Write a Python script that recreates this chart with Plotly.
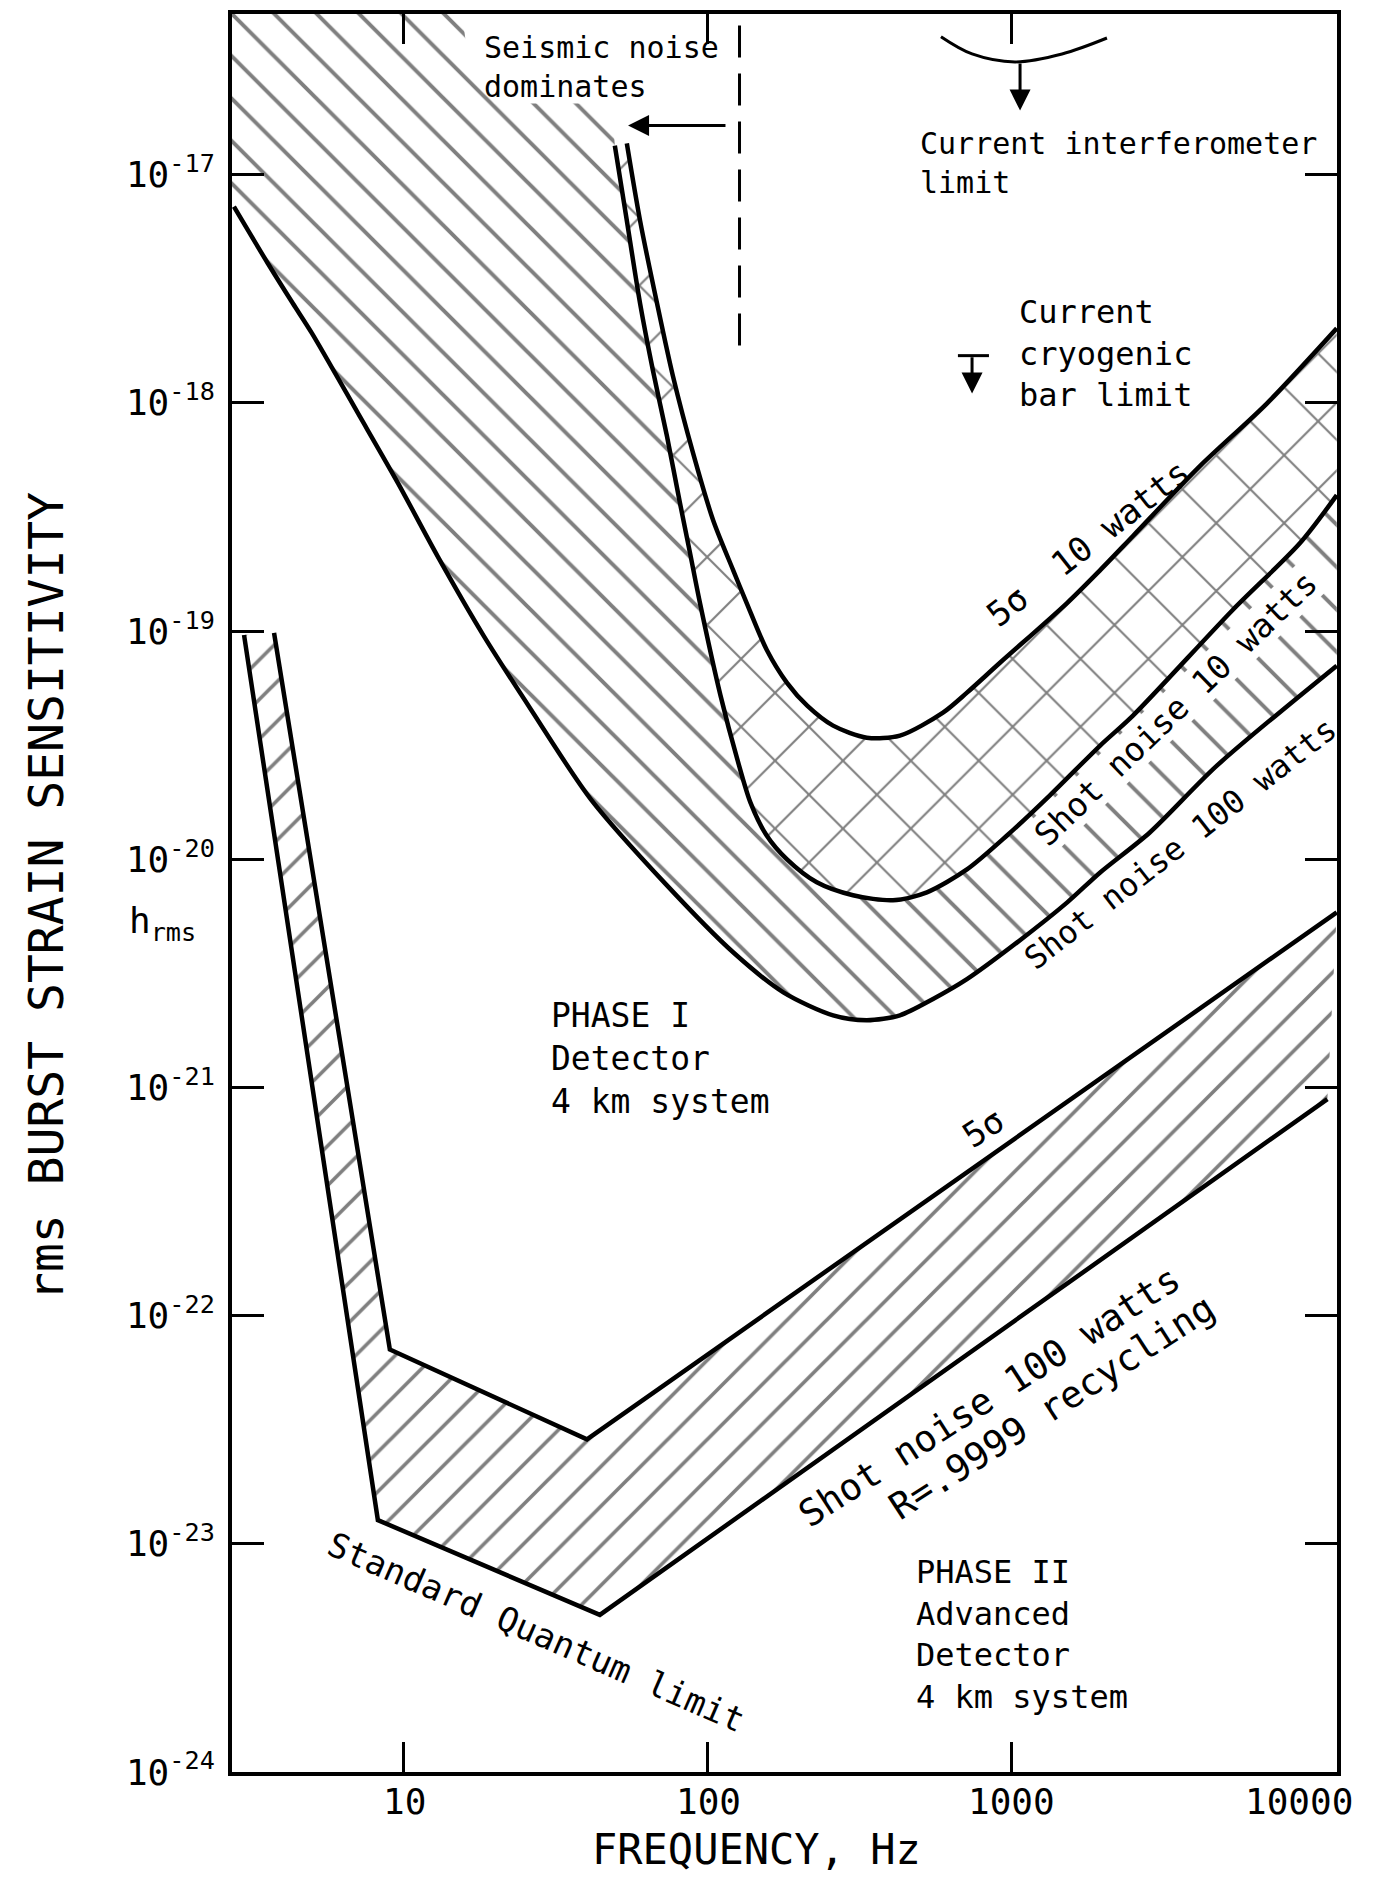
import math
import plotly.graph_objects as go

# ---------------- values ----------------
# Phase I : lower envelope, shot noise 100 W  (Hz, h_rms)
shot100_f = [2.76, 3.57, 4.31, 4.98, 7.06, 9.56, 12.9, 18.3, 26.2, 41.2, 73.3, 121, 177,
             258, 333, 428, 550, 711, 1040, 1520, 1950, 2840, 4720, 11700]
shot100_h = [7.24e-18, 4.08e-18, 2.73e-18, 2.02e-18, 9.01e-19, 4.45e-19, 2.13e-19, 9.53e-20,
             4.52e-20, 1.83e-20, 7.68e-21, 3.91e-21, 2.61e-21, 2.07e-21, 1.97e-21,
             2.07e-21, 2.44e-21, 2.98e-21, 4.32e-21, 6.47e-21, 8.75e-21, 1.31e-20, 2.57e-20, 7.05e-20]

# Phase I : shot noise 10 W
shot10_f = [49.4, 54.1, 59.8, 65.9, 73.3, 80.9, 87.3, 94.1, 110, 125, 138, 156, 182, 228, 300,
            406, 525, 711, 963, 1330, 1950, 2500, 5330, 8860, 11700]
shot10_h = [1.34e-17, 6.29e-18, 2.73e-18, 1.39e-18, 7.15e-19, 3.64e-19, 2.20e-19, 1.33e-19,
            5.21e-20, 2.73e-20, 1.77e-20, 1.27e-20, 9.98e-21, 7.92e-21, 6.95e-21, 6.61e-21,
            7.16e-21, 9.02e-21, 1.27e-20, 1.90e-20, 3.15e-20, 4.26e-20, 1.24e-19, 2.43e-19, 3.94e-19]

# Phase I : 5 sigma, 10 W
sig10_f = [54.1, 59.8, 68.0, 76.7, 89.3, 104, 121, 134, 156, 182, 212, 258, 333, 428, 593,
           711, 913, 1520, 1950, 2500, 4150, 6900, 11700]
sig10_h = [1.37e-17, 6.29e-18, 2.73e-18, 1.31e-18, 6.03e-19, 3.06e-19, 1.85e-19, 1.33e-19,
           8.28e-20, 5.93e-20, 4.71e-20, 3.85e-20, 3.41e-20, 3.48e-20, 4.39e-20, 5.37e-20,
           7.26e-20, 1.33e-19, 1.85e-19, 2.61e-19, 5.28e-19, 9.95e-19, 2.12e-18]

# upper edge of the seismic-noise hatching (it stops under the label)
seis_top_f = [2.5, 14.5, 16.5, 19.9, 48.3]
seis_top_h = [1e-16, 1e-16, 2.77e-17, 2.05e-17, 2.05e-17]

# Phase II : 5 sigma (upper) and standard quantum limit / recycled shot noise (lower)
p2_sigma_f = [3.74, 8.99, 40.0, 11700]
p2_sigma_h = [9.82e-20, 7.10e-23, 2.87e-23, 5.85e-21]
p2_sql_f = [2.98, 8.21, 44.1, 10900]
p2_sql_h = [9.61e-20, 1.27e-23, 4.88e-24, 8.89e-22]

# markers
seismic_cut_f = [127, 127]
seismic_cut_h = [4.5e-17, 1.7e-18]
seismic_arrow_f = [115.5, 54.6]          # tail, tip
seismic_arrow_h = [1.64e-17, 1.64e-17]
interf_arc_f = [584, 739, 1023, 1461, 2053]
interf_arc_h = [4.02e-17, 3.38e-17, 3.12e-17, 3.38e-17, 3.97e-17]
interf_arrow_f = [1063, 1063]
interf_arrow_h = [3.12e-17, 1.91e-17]
cryo_bar_f = [664, 840]
cryo_bar_h = [1.61e-18, 1.61e-18]
cryo_arrow_f = [739, 739]
cryo_arrow_h = [1.61e-18, 1.10e-18]

x_ticks = [10, 100, 1000]
x_labels = ["10", "100", "1000", "10000"]
y_ticks = [1e-24, 1e-23, 1e-22, 1e-21, 1e-20, 1e-19, 1e-18, 1e-17]
y_ticktext = ["10<sup>-24</sup>", "10<sup>-23</sup>", "10<sup>-22</sup>", "10<sup>-21</sup>",
              "10<sup>-20</sup>", "10<sup>-19</sup>", "10<sup>-18</sup>", "10<sup>-17</sup>"]

FONT = "DejaVu Sans Mono"

fig = go.Figure()


def hatch(fx, hy, shape, size, solidity):
    fig.add_trace(go.Scatter(x=fx, y=hy, mode="lines", fill="toself",
                             line=dict(width=0, color="rgba(0,0,0,0)"), fillcolor="white",
                             fillpattern=dict(shape=shape, size=size, solidity=solidity,
                                              fgcolor="black", bgcolor="white"),
                             hoverinfo="skip", showlegend=False))


# ---- hatched regions ----
hatch(seis_top_f + shot10_f + shot100_f[::-1] + [2.5],
      seis_top_h + shot10_h + shot100_h[::-1] + [shot100_h[0]], "\\", 30, 0.13)
hatch(sig10_f + shot10_f[::-1], sig10_h + shot10_h[::-1], "x", 48, 0.085)
hatch(p2_sigma_f + p2_sql_f[::-1], p2_sigma_h + p2_sql_h[::-1], "/", 28, 0.13)

# ---- curves ----
for fx, hy, shp in [(shot100_f, shot100_h, "spline"), (shot10_f, shot10_h, "spline"),
                    (sig10_f, sig10_h, "spline"), (p2_sigma_f, p2_sigma_h, "linear"),
                    (p2_sql_f, p2_sql_h, "linear")]:
    fig.add_trace(go.Scatter(x=fx, y=hy, mode="lines",
                             line=dict(color="black", width=4.5, shape=shp, smoothing=0.8),
                             hoverinfo="skip", showlegend=False))

fig.add_trace(go.Scatter(x=seismic_cut_f, y=seismic_cut_h, mode="lines",
                         line=dict(color="black", width=3, dash="32px,16px"),
                         hoverinfo="skip", showlegend=False))
fig.add_trace(go.Scatter(x=interf_arc_f, y=interf_arc_h, mode="lines",
                         line=dict(color="black", width=3, shape="spline"),
                         hoverinfo="skip", showlegend=False))
fig.add_trace(go.Scatter(x=cryo_bar_f, y=cryo_bar_h, mode="lines",
                         line=dict(color="black", width=3),
                         hoverinfo="skip", showlegend=False))

# plot area in page pixels (page has an 8 px body margin)
L, R, T, B = 232, 1337, 10, 1772
FW, FH = 1373, 1872


def pp(px, py):
    return dict(x=(px - L) / (R - L), y=(B - py) / (B - T), xref="paper", yref="paper")


ann = []
for fx, hy in [(seismic_arrow_f, seismic_arrow_h), (interf_arrow_f, interf_arrow_h),
               (cryo_arrow_f, cryo_arrow_h)]:
    ann.append(dict(x=math.log10(fx[1]), y=math.log10(hy[1]), ax=math.log10(fx[0]),
                    ay=math.log10(hy[0]), xref="x", yref="y", axref="x", ayref="y",
                    text="", showarrow=True, arrowhead=2, arrowsize=1.4, arrowwidth=3,
                    arrowcolor="black", standoff=0))

texts = [
    ("Seismic noise<br>dominates", 482, 63, 30, 0, "left", None),
    ("Current interferometer<br>limit", 918, 159, 30, 0, "left", None),
    ("Current<br>cryogenic<br>bar limit", 1017, 350, 32, 0, "left", None),
    ("PHASE I<br>Detector<br>4 km system", 549, 1057, 33, 0, "left", None),
    ("PHASE II<br>Advanced<br>Detector<br>4 km system", 914, 1634, 32, 0, "left", None),
    ("5σ\u00a0\u00a010 watts", 1088, 540, 34, -38, "center", None),
    ("Shot noise 10 watts", 1176, 706, 33, -44, "center", "white"),
    ("Shot noise 100 watts", 1180, 842, 32, -38, "center", None),
    ("5σ", 983, 1127, 34, -33, "center", None),
    ("Shot noise 100 watts", 990, 1396, 37, -33, "center", None),
    ("R=.9999 recycling", 1052, 1407, 37, -33, "center", None),
    ("Standard Quantum limit", 536, 1632, 34, 23.5, "center", None),
    ("rms BURST STRAIN SENSITIVITY", 46, 895, 48, -90, "center", None),
    ("h<sub>rms</sub>", 162, 922, 36, 0, "center", None),
    ("FREQUENCY, Hz", 756, 1850, 42, 0, "center", None),
]
for lbl, px in zip(x_labels, [404, 708, 1011, 1299]):
    texts.append((lbl, px, 1802, 36, 0, "center", None))

for txt, px, py, fs, ang, anchor, bg in texts:
    a = pp(px, py)
    a.update(text=txt, showarrow=False, textangle=ang, xanchor=anchor, yanchor="middle",
             align="left" if anchor == "left" else "center",
             font=dict(family=FONT, size=fs, color="black"))
    if bg:
        a.update(bgcolor=bg, borderpad=0)
    ann.append(a)

fig.update_layout(
    width=FW, height=FH,
    margin=dict(l=L - 8, r=FW + 8 - R, t=T - 8, b=FH + 8 - B),
    paper_bgcolor="white", plot_bgcolor="white",
    showlegend=False,
    annotations=ann,
    xaxis=dict(type="log", range=[math.log10(2.72), 4.069], tickvals=x_ticks,
               showticklabels=False,
               ticks="inside", ticklen=30, tickwidth=3, tickcolor="black",
               showline=True, linewidth=4, linecolor="black", mirror="ticks",
               showgrid=False, zeroline=False),
    yaxis=dict(type="log", range=[-24, -16.296], tickvals=y_ticks, ticktext=y_ticktext,
               ticks="inside", ticklen=32, tickwidth=3, tickcolor="black",
               showline=True, linewidth=4, linecolor="black", mirror="ticks",
               showgrid=False, zeroline=False, ticklabelstandoff=6,
               tickfont=dict(family=FONT, size=36, color="black")),
)

fig.write_html("out.html")
